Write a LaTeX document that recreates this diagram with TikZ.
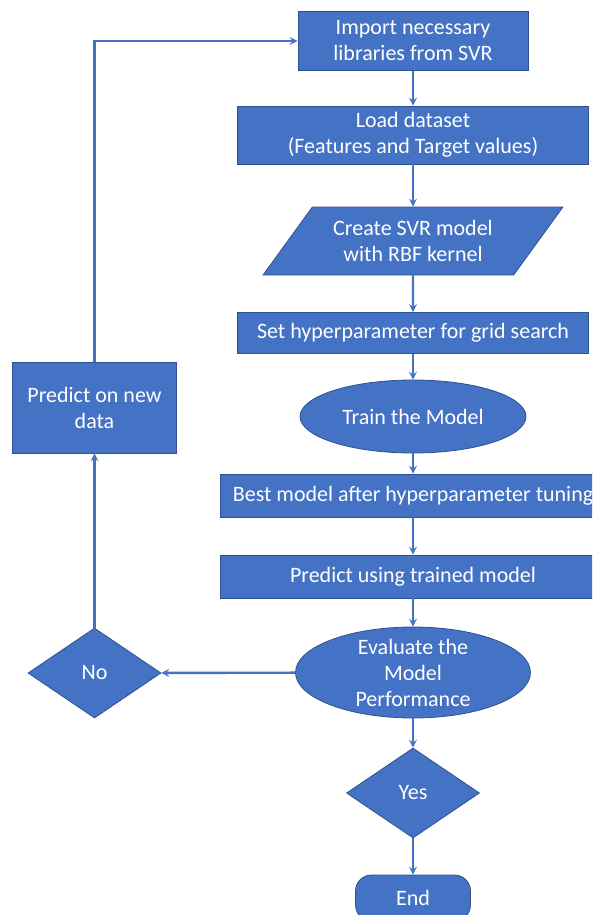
\documentclass[tikz,border=0pt]{standalone}
\usepackage{fontspec}
\setmainfont{Carlito}
\usepackage{tikz}
\usetikzlibrary{shapes.geometric}
\definecolor{boxblue}{HTML}{4472C4}
\definecolor{edgeblue}{HTML}{2F528F}
\tikzset{>=stealth,
  block/.style={draw=edgeblue,line width=0.8pt,fill=boxblue,text=white,align=center,inner sep=2pt,font=\fontsize{22}{26}\selectfont},
  io/.style={block,trapezium,trapezium left angle=48.6,trapezium right angle=131.4,trapezium stretches=true},
  oval/.style={block,ellipse},
  decision/.style={block,diamond},
  flow/.style={line width=2.4pt,boxblue,->}}

\begin{document}
\begin{tikzpicture}[x=1pt,y=-1pt]
  \useasboundingbox (0,0) rectangle (592,915);
  \clip (0,0) rectangle (592,915);
       \node[block,minimum width=230,minimum height=59] at (413,41) (import) {Import necessary\\libraries from SVR};
       \node[block,minimum width=351,minimum height=58] at (413,135) (load) {Load dataset\\(Features and Target values)};
       \node[io,minimum width=301,minimum height=68] at (413,241) (model) {Create SVR model\\with RBF kernel};
       \node[block,minimum width=351,minimum height=41] at (413,333) (grid) {Set hyperparameter for grid search};
       \node[oval,minimum width=226,minimum height=73] at (413,416.5) (train) {Train the Model};
       \node[block,minimum width=386,minimum height=43] at (413,495.5) (best) {Best model after hyperparameter tuning};
       \node[block,minimum width=386,minimum height=43] at (413,576.5) (predict) {Predict using trained model};
       \node[oval,minimum width=235,minimum height=91,
             label={[text=white,align=center,font=\fontsize{22}{26}\selectfont]center:Evaluate the\\Model\\Performance}] at (413,672.5) (eval) {};
       \node[decision,minimum width=133,minimum height=90] at (94.5,673) (no) {No};
       \node[decision,minimum width=133,minimum height=90] at (413,793) (yes) {Yes};
       \node[block,rounded corners=16pt,minimum width=115,minimum height=46] at (413,898) (end) {End};
       \node[block,minimum width=164,minimum height=91] at (94.5,407.5) (newdata) {Predict on new\\data};
     \draw[flow] (import) -- (load);
     \draw[flow] (load) -- (model);
     \draw[flow] (model) -- (grid);
     \draw[flow] (grid) -- (train);
     \draw[flow] (train) -- (best);
     \draw[flow] (best) -- (predict);
     \draw[flow] (predict) -- (eval);
     \draw[flow] (eval) -- (yes);
     \draw[flow] (yes) -- (end);
     \draw[flow] (eval) -- (no);
     \draw[flow] (no) -- (newdata);
     \draw[flow] (newdata) |- (import);
     \end{tikzpicture}
\end{document}
